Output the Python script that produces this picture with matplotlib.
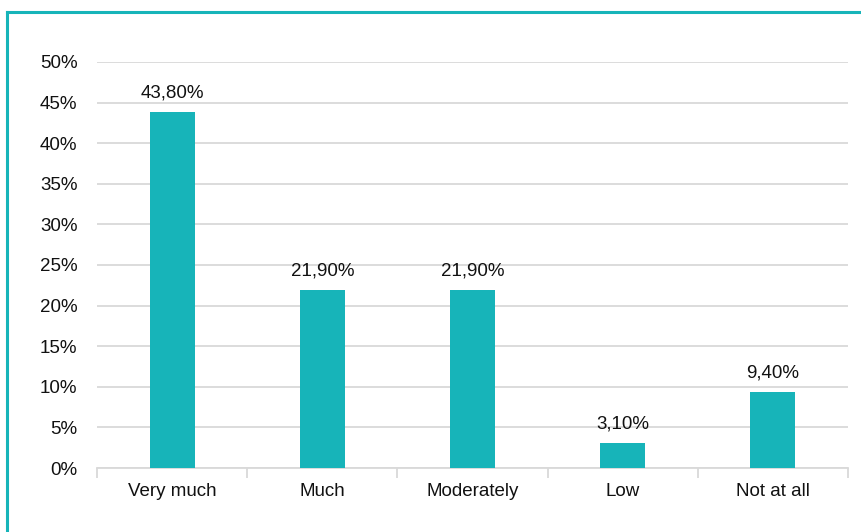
import matplotlib.pyplot as plt
import matplotlib.font_manager as fm
from matplotlib.lines import Line2D
from matplotlib.ticker import FuncFormatter, MultipleLocator

categories = ["Very much", "Much", "Moderately", "Low", "Not at all"]
values = [43.8, 21.9, 21.9, 3.1, 9.4]
labels = ["43,80%", "21,90%", "21,90%", "3,10%", "9,40%"]

names = {f.name for f in fm.fontManager.ttflist}
fam = "Liberation Sans Narrow" if "Liberation Sans Narrow" in names else "Liberation Sans"
plt.rcParams["font.family"] = [fam, "DejaVu Sans"]

teal = "#17b4b9"
grid = "#d9d9d9"
ink = "#111111"
fs = 13.5

fig = plt.figure(figsize=(8.62, 5.32), dpi=100)
ax = fig.add_axes([0.1125, 0.1203, 0.8712, 0.7632])

x = range(len(categories))
ax.bar(x, values, 0.3, color=teal, zorder=3)
for i, (v, t) in enumerate(zip(values, labels)):
    ax.text(i, v + 1.3, t, ha="center", va="bottom", fontsize=fs, color=ink)

ax.set_xlim(-0.5, len(categories) - 0.5)
ax.set_ylim(0, 50)
ax.yaxis.set_major_locator(MultipleLocator(5))
ax.yaxis.set_major_formatter(FuncFormatter(lambda v, p: f"{v:.0f}%"))
ax.yaxis.grid(True, color=grid, linewidth=1.3, zorder=0)
ax.set_xticks(list(x))
ax.set_xticklabels(categories)
ax.set_xticks([i - 0.5 for i in range(len(categories) + 1)], minor=True)
ax.tick_params(axis="x", which="major", length=0, pad=11, labelsize=fs, labelcolor=ink)
ax.tick_params(axis="x", which="minor", length=7, width=1.3, color=grid, direction="out")
ax.tick_params(axis="y", length=0, pad=14, labelsize=fs, labelcolor=ink)
for s in ["top", "right", "left"]:
    ax.spines[s].set_visible(False)
ax.spines["bottom"].set_color(grid)
ax.spines["bottom"].set_linewidth(1.3)

# frame line along the top and left edge
fig.add_artist(Line2D([0.0081, 1.0], [0.978, 0.978], color=teal, linewidth=2.2,
                      transform=fig.transFigure))
fig.add_artist(Line2D([0.0081, 0.0081], [0.0, 0.978], color=teal, linewidth=2.2,
                      transform=fig.transFigure))

fig.savefig("out.png", dpi=100)
